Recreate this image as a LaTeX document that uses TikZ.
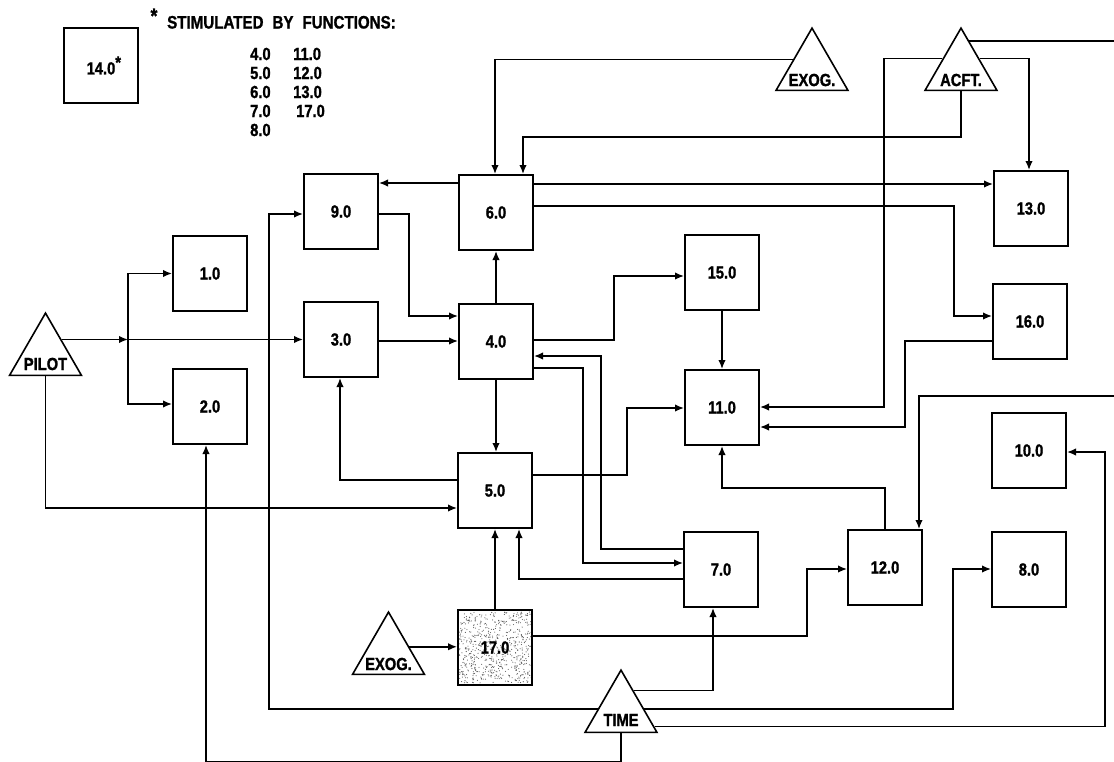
\documentclass[tikz,border=0pt]{standalone}
\usepackage{fontspec}
\newfontfamily\lab[FakeStretch=0.84, BoldFeatures={FakeBold=1.2}]{Liberation Sans}
\usetikzlibrary{arrows.meta,calc,shapes.geometric}
\begin{document}
\begin{tikzpicture}[x=1pt,y=-1pt,
  box/.style={draw, line width=2pt, minimum width=74pt, minimum height=75pt, inner sep=0pt,
    font=\lab\bfseries\fontsize{17.5}{19}\selectfont},
  tri/.style={draw, line width=1.6pt, regular polygon, regular polygon sides=3,
    minimum size=83pt, inner sep=0pt},
  txt/.style={font=\lab\bfseries\fontsize{17.5}{19}\selectfont, inner sep=0pt},
  conn/.style={line width=1.5pt},
  arr/.style={conn, -{Latex[length=9pt,width=7.5pt]}}
]
\useasboundingbox (0,0) rectangle (1114,761);
\fill[white] (0,0) rectangle (1114,761);

% stipple of 17.0
\pgfmathsetseed{4}
\foreach \k in {1,...,650}{%
  \pgfmathsetmacro\px{459+73*rnd}%
  \pgfmathsetmacro\py{612+71*rnd}%
  \fill[black!65] (\px,\py) circle (0.55pt);}

% legend
\node[box] (b14) at (101,65.5) {14.0\rlap{\raisebox{6pt}{*}}};
\node[txt, anchor=base, font=\lab\bfseries\fontsize{21}{21}\selectfont] (star) at (154,23) {*};
\node[txt, anchor=base west, font=\lab\bfseries\fontsize{18}{19}\selectfont] (ttl) at (167,28.5) {STIMULATED\hspace{9pt}BY\hspace{9pt}FUNCTIONS:};
\node[txt, anchor=base west] (flist) at (250,60) {\begin{tabular}[t]{@{}p{43pt}@{}l@{}}4.0&11.0\\5.0&12.0\\6.0&13.0\\7.0&\hspace{3pt}17.0\\8.0&\end{tabular}};

% boxes
\node[box] (b9) at (341,211.5) {9.0};
\node[box] (b1) at (210,273.5) {1.0};
\node[box] (b3) at (341,339.5) {3.0};
\node[box] (b2) at (210,406.5) {2.0};
\node[box] (b6) at (496,212.5) {6.0};
\node[box] (b4) at (496,341.5) {4.0};
\node[box] (b5) at (495,490.5) {5.0};
\node[box] (b17) at (495,647.5) {17.0};
\node[box] (b7) at (721,569.5) {7.0};
\node[box] (b15) at (722,272.5) {15.0};
\node[box] (b11) at (722,407.5) {11.0};
\node[box] (b12) at (885,567.5) {12.0};
\node[box] (b13) at (1031,208.5) {13.0};
\node[box] (b16) at (1030,321.5) {16.0};
\node[box] (b10) at (1029,450.5) {10.0};
\node[box] (b8) at (1029,569.5) {8.0};

% triangles
\node[tri] (pilot) at (45.5,354.6) {};
\node[tri] (exogA) at (812,69.6) {};
\node[tri] (acft) at (961,69.6) {};
\node[tri] (exogB) at (388.5,653.6) {};
\node[tri] (time) at (621,711.6) {};
\node[txt] at (45.5,364) {PILOT};
\node[txt] at (812,80) {EXOG.};
\node[txt] at (961,80) {ACFT.};
\node[txt] at (388.5,664) {EXOG.};
\node[txt] at (621,720) {TIME};

% points on triangle sides
\coordinate (pR) at ($(pilot.corner 1)!0.433!(pilot.corner 3)$);
\coordinate (xAL) at ($(exogA.corner 1)!0.513!(exogA.corner 2)$);
\coordinate (aL) at ($(acft.corner 1)!0.497!(acft.corner 2)$);
\coordinate (aR) at ($(acft.corner 1)!0.497!(acft.corner 3)$);
\coordinate (aRt) at ($(acft.corner 1)!0.2245!(acft.corner 3)$);
\coordinate (xBR) at ($(exogB.corner 1)!0.561!(exogB.corner 3)$);
\coordinate (tR1) at ($(time.corner 1)!0.337!(time.corner 3)$);
\coordinate (tR2) at ($(time.corner 1)!0.626!(time.corner 3)$);
\coordinate (tR3) at ($(time.corner 1)!0.898!(time.corner 3)$);
\coordinate (tL) at ($(time.corner 1)!0.626!(time.corner 2)$);

\coordinate (j) at (pR -| 128,0);
\coordinate (e1) at (aRt -| 1114,0);
\coordinate (e2) at (1114,396);

% connectors
\draw[arr] (pR) -- (j);
\draw[arr] (j) -- (b3.west |- j);
\draw[arr] (j) |- (b1.west);
\draw[arr] (j) |- (b2.west |- 0,404);
\draw[arr] (pilot.south) |- (b5.west |- 0,508);
\draw[arr] (b3.east |- 0,341) -- (b4.west |- 0,341);
\draw[arr] (b9.east |- 0,214) -| (409,316) -- (b4.west |- 0,316);
\draw[arr] (b6.west |- 0,183) -- (b9.east |- 0,183);
\draw[arr] (b4.north) -- (b4.north |- b6.south);
\draw[arr] (b4.south) -- (b4.south |- b5.north);
\draw[arr] (b5.west |- 0,480) -| (b3.south -| 340,0);
\draw[arr] (b4.east |- 0,340) -| (614,276) -- (b15.west |- 0,276);
\draw[arr] (b15.south) -- (b15.south |- b11.north);
\draw[arr] (b4.east |- 0,368) -| (583,563) -- (b7.west |- 0,563);
\draw[arr] (b7.west |- 0,549) -| (601,356) -- (b4.east |- 0,356);
\draw[arr] (b5.east |- 0,475) -| (627,408) -- (b11.west |- 0,408);
\draw[arr] (b7.west |- 0,579) -| (b5.south -| 519,0);
\draw[arr] (b17.north) -- (b17.north |- b5.south);
\draw[arr] (xBR) -- (b17.west |- xBR);
\draw[arr] (b17.east |- 0,636) -| (807,569) -- (b12.west |- 0,569);
\draw[arr] (tR1) -| (b7.south -| 713,0);
\draw[arr] (tR2) -| (953,569) -- (b8.west |- 0,569);
\draw[arr] (tR3) -| (1105,452) -- (b10.east |- 0,452);
\draw[arr] (tL) -| (269,214) -- (b9.west |- 0,214);
\draw[arr] (time.south) -- (time.south |- 0,761.6) -| (b2.south -| 206,0);
\draw[arr] (xAL) -| (b6.north -| 495,0);
\draw[arr] (acft.south) -- (acft.south |- 0,137) -| (b6.north -| 523,0);
\draw[arr] (aR) -| (b13.north -| 1029,0);
\draw[arr] (aL) -| (884,407) -- (b11.east |- 0,407);
\draw[conn] (aRt) -- (e1);
\draw[arr] (e2) -| (b12.north -| 919,0);
\draw[arr] (b6.east |- 0,184) -- (b13.west |- 0,184);
\draw[arr] (b6.east |- 0,206) -| (954,316) -- (b16.west |- 0,316);
\draw[arr] (b16.west |- 0,341) -| (905,427) -- (b11.east |- 0,427);
\draw[arr] (b12.north) -- (b12.north |- 0,488) -| (b11.south);
\end{tikzpicture}
\end{document}
